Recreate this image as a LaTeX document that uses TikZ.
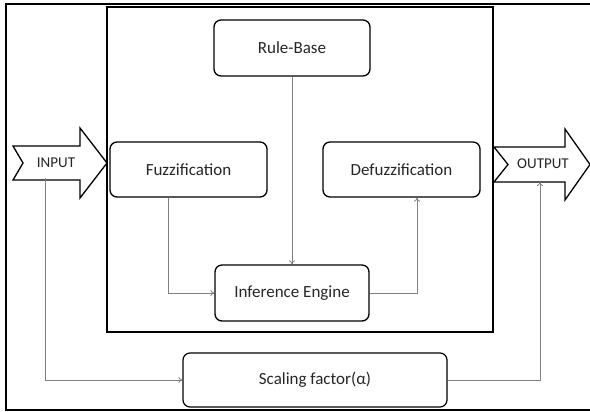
\documentclass[tikz,border=0pt]{standalone}
\usepackage{fontspec}
\setmainfont{Carlito}
\usetikzlibrary{arrows.meta}
\begin{document}
\begin{tikzpicture}[x=1pt,y=-1pt,
  box/.style={draw=black, line width=1.3pt, rounded corners=7pt, fill=white,
    inner sep=0pt, text=black!85, font=\fontsize{17}{19}\selectfont},
  conn/.style={draw=black!50, line width=0.8pt, -{To[length=4pt,width=6pt]}},
  bigarrow/.style={draw=black, line width=1.3pt, fill=white, line join=miter},
  lab/.style={font=\fontsize{15}{17}\selectfont, text=black!85, inner sep=0pt}]
\useasboundingbox (0,0) rectangle (590,412);
\clip (0,0) rectangle (590,412);
% outer frame (right side runs off the picture)
\draw[line width=1.5pt] (600,4) -- (6,4) -- (6,410) -- (600,410);
% inner system box
\draw[line width=1.6pt] (107,7) rectangle (493,332);
% big input/output arrows
\draw[bigarrow] (13,146) -- (80,146) -- (80,128) -- (107,163) -- (80,198) -- (80,180) -- (13,180) -- (23,163) -- cycle;
\draw[bigarrow] (494,147) -- (565,147) -- (565,129) -- (590,164.5) -- (565,200) -- (565,182) -- (494,182) -- (508,164.5) -- cycle;
\node[lab] (in) at (56,163) {INPUT};
\node[lab] (out) at (543,164) {OUTPUT};
\coordinate (inpt) at (45,178);
\coordinate (outb) at (540,182);
% blocks
\node[box, minimum width=156pt, minimum height=56pt] (rb) at (292,48) {Rule-Base};
\node[box, minimum width=157pt, minimum height=55pt] (fz) at (188.5,169.5) {Fuzzification};
\node[box, minimum width=157pt, minimum height=55pt] (dz) at (401.5,169.5) {Defuzzification};
\node[box, minimum width=154pt, minimum height=56pt] (ie) at (292,293) {Inference Engine};
\node[box, line width=1.2pt, minimum width=264pt, minimum height=54pt] (sc) at (315,380) {Scaling factor(α)};
% connectors
\draw[conn] (rb.south) -- (ie.north);
\draw[conn] ([xshift=-20.5pt]fz.south) |- (ie.west);
\draw[conn] (ie.east) -| ([xshift=15.5pt]dz.south);
\draw[conn] (inpt) |- (sc.west);
\draw[conn] (sc.east) -| (outb);
\end{tikzpicture}
\end{document}
